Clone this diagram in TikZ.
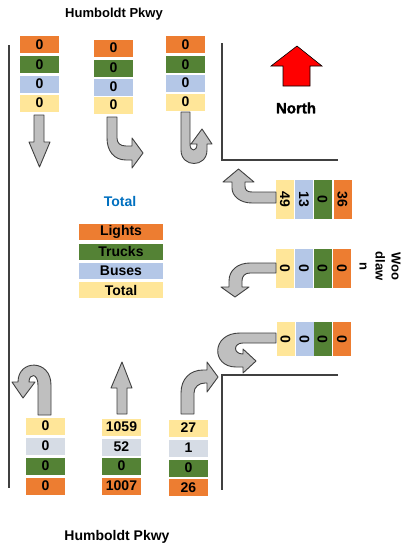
\documentclass[tikz,border=0pt]{standalone}
\usepackage{fontspec}
\setmainfont{Liberation Sans}
\newfontfamily\northfont{Liberation Sans Bold}[FakeBold=1.6]
\definecolor{cOrange}{HTML}{ED7D31}
\definecolor{cGreen}{HTML}{548235}
\definecolor{cBlue}{HTML}{B4C7E7}
\definecolor{cYellow}{HTML}{FFE699}
\definecolor{cGrey}{HTML}{D6DCE5}
\definecolor{cArrow}{HTML}{BFBFBF}
\definecolor{cEdge}{HTML}{404040}
\definecolor{cTotal}{HTML}{0070C0}
\tikzset{
  cell/.style={inner sep=0pt, minimum width=39, minimum height=17, font=\fontsize{14}{16}\selectfont\bfseries},
  vcell/.style={cell, rotate=-90, minimum width=39, minimum height=18},
  leg/.style={inner sep=0pt, minimum width=84, minimum height=16, font=\fontsize{14}{16}\selectfont\bfseries},
  bigarrow/.style={fill=cArrow, draw=cEdge, line width=0.9pt, line join=round},
  road/.style={draw=cEdge, line width=1.4pt},
  street/.style={font=\fontsize{13}{15}\selectfont\bfseries}
}
\begin{document}
\begin{tikzpicture}[x=1pt,y=-1pt]
\useasboundingbox (0,0) rectangle (411,550);
\fill[white] (0,0) rectangle (411,550);

% roads
\draw[road] (9,45) -- (9,488);
\draw[road] (222,43) -- (222,160) -- (338,160);
\draw[road] (338,375) -- (222,375) -- (222,490);

% street names
\node[street] (ntop) at (114,14) {Humboldt Pkwy};
\node[street, font=\fontsize{14}{16}\selectfont\bfseries] (nbot) at (117,537) {Humboldt Pkwy};
\node[street, rotate=-90, align=center, font=\fontsize{13}{16}\selectfont\bfseries] (wood) at (380,266) {Woo\\dlaw\\n};

% north arrow
\draw[fill=red, draw=black, line width=0.6pt] (297,46) -- (322,66) -- (310,66) -- (310,86) -- (283,86) -- (283,66) -- (271,66) -- cycle;
\node[font=\fontsize{15}{17}\selectfont\northfont] (north) at (296,108) {North};

% legend
\node[font=\fontsize{14}{16}\selectfont\bfseries, text=cTotal] (ttl) at (120,201) {Total};
\node[leg, fill=cOrange] (lg1) at (121,232) {Lights};
\node[leg, fill=cGreen] (lg2) at (121,251.5) {Trucks};
\node[leg, fill=cBlue] (lg3) at (121,271) {Buses};
\node[leg, fill=cYellow] (lg4) at (121,290) {Total};

% top-left column
\node[cell, fill=cOrange] (tl1) at (39.5,44.5) {0};
\node[cell, fill=cGreen] (tl2) at (39.5,64.5) {0};
\node[cell, fill=cBlue] (tl3) at (39.5,84) {0};
\node[cell, fill=cYellow] (tl4) at (39.5,103) {0};
% top-middle column
\node[cell, fill=cOrange] (tm1) at (113.5,48) {0};
\node[cell, fill=cGreen] (tm2) at (113.5,68) {0};
\node[cell, fill=cBlue] (tm3) at (113.5,87) {0};
\node[cell, fill=cYellow] (tm4) at (113.5,105) {0};
% top-right column
\node[cell, fill=cOrange] (tr1) at (185.5,44.5) {0};
\node[cell, fill=cGreen] (tr2) at (185.5,64.5) {0};
\node[cell, fill=cBlue] (tr3) at (185.5,83) {0};
\node[cell, fill=cYellow] (tr4) at (185.5,102) {0};

% bottom-left column
\node[cell, fill=cYellow] (bl1) at (45.5,426) {0};
\node[cell, fill=cGrey] (bl2) at (45.5,446) {0};
\node[cell, fill=cGreen] (bl3) at (45.5,466) {0};
\node[cell, fill=cOrange] (bl4) at (45.5,486) {0};
% bottom-middle column
\node[cell, fill=cYellow] (bm1) at (121.5,427) {1059};
\node[cell, fill=cGrey] (bm2) at (121.5,447) {52};
\node[cell, fill=cGreen] (bm3) at (121.5,466) {0};
\node[cell, fill=cOrange] (bm4) at (121.5,486) {1007};
% bottom-right column
\node[cell, fill=cYellow] (br1) at (188.5,428) {27};
\node[cell, fill=cGrey] (br2) at (188.5,448) {1};
\node[cell, fill=cGreen] (br3) at (188.5,468) {0};
\node[cell, fill=cOrange] (br4) at (188.5,487.5) {26};

% east rows
\node[vcell, fill=cYellow] (ea1) at (285,199) {49};
\node[vcell, fill=cBlue] (ea2) at (304,199) {13};
\node[vcell, fill=cGreen] (ea3) at (322.5,199) {0};
\node[vcell, fill=cOrange] (ea4) at (342.5,199) {36};
\node[vcell, fill=cYellow] (eb1) at (285,268.5) {0};
\node[vcell, fill=cBlue] (eb2) at (304,268.5) {0};
\node[vcell, fill=cGreen] (eb3) at (322.5,268.5) {0};
\node[vcell, fill=cOrange] (eb4) at (342,268.5) {0};
\node[vcell, fill=cYellow, minimum width=34] (ec1) at (285.5,339) {0};
\node[vcell, fill=cBlue, minimum width=34] (ec2) at (304.5,339) {0};
\node[vcell, fill=cGreen, minimum width=34] (ec3) at (322.5,339) {0};
\node[vcell, fill=cOrange, minimum width=34] (ec4) at (342,339) {0};

% ---- movement arrows ----
% top-left: straight down
\path[bigarrow] (34,115) -- (44,115) -- (44,142) -- (50,142) -- (39.5,167) -- (29,142) -- (34,142) -- cycle;
% top-middle: turn to the right (east)
\path[bigarrow] (107,117) -- (117,117) -- (117,138) .. controls (117,143) and (120,146) .. (126,146) -- (132,146) -- (132,138) -- (143,153) -- (132,168) -- (132,160) -- (126,160) .. controls (114,160) and (107,151) .. (107,138) -- cycle;
% top-right: U-turn
\path[bigarrow] (181,112) -- (190,112) -- (190,144) .. controls (190,152) and (197,152) .. (197,144) -- (191,144) -- (202,129) -- (212,144) -- (207,144) -- (207,150) .. controls (207,168) and (181,168) .. (181,150) -- cycle;

% east row 1: turn north
\path[bigarrow] (276,192) -- (276,203) -- (252,203) .. controls (240,203) and (232,196) .. (232,188) -- (232,182) -- (223,182) -- (238.5,169) -- (254,182) -- (245,182) -- (245,186) .. controls (245,190) and (247,192) .. (252,192) -- cycle;
% east row 2: turn south
\path[bigarrow] (276,263) -- (276,273) -- (250,273) .. controls (245,273) and (242,276) .. (242,281) -- (242,287) -- (249,287) -- (235,297) -- (221,287) -- (229,287) -- (229,281) .. controls (229,270) and (238,263) .. (250,263) -- cycle;
% east row 3: U-turn
\path[bigarrow] (276,333) -- (276,343) -- (243,343) .. controls (233,343) and (233,354) .. (243,354) -- (243,349) -- (256,361) -- (243,373) -- (243,367) -- (236,367) .. controls (211,367) and (211,333) .. (240,333) -- cycle;

% bottom-left: U-turn
\path[bigarrow] (38,415) -- (51,415) -- (51,385) .. controls (51,359) and (18,359) .. (18,382) -- (12,382) -- (23,398) -- (35,382) -- (29,382) .. controls (29,373) and (38,373) .. (38,385) -- cycle;
% bottom-middle: straight up
\path[bigarrow] (117,414) -- (127,414) -- (127,388) -- (132,388) -- (122,362) -- (111,388) -- (117,388) -- cycle;
% bottom-right: turn right (east)
\path[bigarrow] (181,414) -- (194,414) -- (194,393) .. controls (194,387) and (199,383) .. (205,383) -- (207,383) -- (207,392) -- (218,377) -- (207,362) -- (207,370) -- (203,370) .. controls (190,370) and (181,379) .. (181,393) -- cycle;
\end{tikzpicture}
\end{document}
